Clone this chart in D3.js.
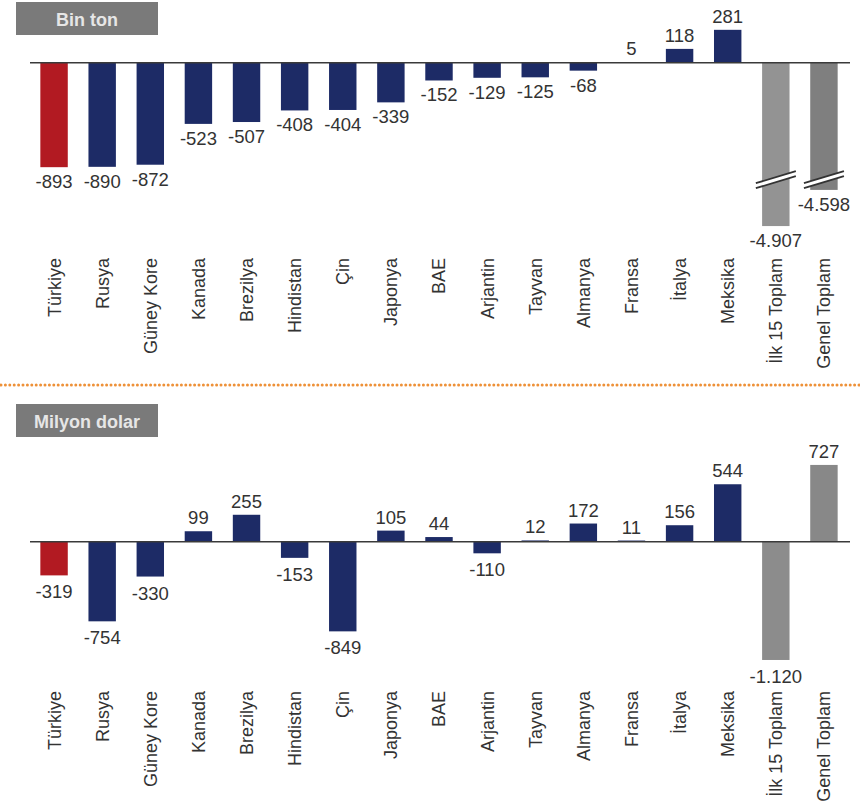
<!DOCTYPE html>
<html>
<head>
<meta charset="utf-8">
<script src="https://cdn.jsdelivr.net/npm/d3@7"></script>
<style>
  html, body { margin: 0; padding: 0; background: #ffffff; }
  svg { display: block; font-family: "Liberation Sans", Arial, Helvetica, sans-serif; }
</style>
</head>
<body>
<svg id="chart" width="860" height="807"></svg>
<script>
// ---------- DATA ----------
const categories = ["Türkiye", "Rusya", "Güney Kore", "Kanada", "Brezilya", "Hindistan", "Çin",
  "Japonya", "BAE", "Arjantin", "Tayvan", "Almanya", "Fransa", "İtalya", "Meksika",
  "İlk 15 Toplam", "Genel Toplam"];
const categoryType = ["turkey", "country", "country", "country", "country", "country", "country",
  "country", "country", "country", "country", "country", "country", "country", "country",
  "top15", "total"];
const binTon = [-893, -890, -872, -523, -507, -408, -404, -339, -152, -129, -125, -68, 5, 118, 281, -4907, -4598];
const milyonDolar = [-319, -754, -330, 99, 255, -153, -849, 105, 44, -110, 12, 172, 11, 156, 544, -1120, 727];
const panelTitles = ["Bin ton", "Milyon dolar"];
// axis break for the tonnage panel (values between these are skipped)
const breakLow = -4515, breakHigh = -1000;

// ---------- STYLE ----------
const colorsTop = { turkey: "#b21a22", country: "#1d2b66", top15: "#939393", total: "#7f7f7f" };
const colorsBottom = { turkey: "#b21a22", country: "#1d2b66", top15: "#8c8c8c", total: "#888888" };

const fmt = d3.formatLocale({ decimal: ",", thousands: ".", grouping: [3], currency: ["", ""], minus: "-" }).format(",d");

const svg = d3.select("#chart");

const x = d3.scaleBand().domain(categories).range([30, 848]).paddingInner(0.43).paddingOuter(0.215);

// top scale (px per unit)
const k1 = 0.117, zero1 = 62.7;
const yTop = d3.scaleLinear()
  .domain([-5000, breakLow, breakHigh, 0, 300])
  .range([zero1 - k1 * breakHigh + 0.5 + k1 * (breakLow + 5000),
          zero1 - k1 * breakHigh + 0.5,
          zero1 - k1 * breakHigh,
          zero1,
          zero1 - k1 * 300]);

const k2 = 0.1056, zero2 = 541.7;
const yBot = d3.scaleLinear().domain([-1200, 800]).range([zero2 + k2 * 1200, zero2 - k2 * 800]);

function drawPanel(g, values, y, colors, opts) {
  const data = categories.map((c, i) => ({ c, v: values[i], t: categoryType[i] }));
  const y0 = y(0);

  // title box
  g.append("rect").attr("x", 16).attr("y", opts.boxY).attr("width", 142).attr("height", 33)
    .attr("fill", "#7a7a7a");
  g.append("text").attr("x", 87).attr("y", opts.boxY + 24).attr("text-anchor", "middle")
    .attr("fill", "#e6e6e6").attr("font-weight", "bold").attr("font-size", 18)
    .text(opts.title);

  // bars
  g.selectAll("rect.bar").data(data).join("rect").attr("class", "bar")
    .attr("x", d => x(d.c)).attr("width", x.bandwidth())
    .attr("y", d => Math.min(y0, y(d.v)))
    .attr("height", d => Math.abs(y(d.v) - y0))
    .attr("fill", d => colors[d.t]);

  // break marks
  if (opts.breakMarks) {
    const yb = y(breakHigh);
    data.filter(d => d.v < breakHigh).forEach(d => {
      const cx = x(d.c) + x.bandwidth() / 2;
      const half = 20, slope = 0.3, gap = 2.5;
      const gb = g.append("g");
      gb.append("path")
        .attr("d", `M${cx - half},${yb + half * slope - gap} L${cx + half},${yb - half * slope - gap} L${cx + half},${yb - half * slope + gap} L${cx - half},${yb + half * slope + gap} Z`)
        .attr("fill", "#ffffff");
      [-gap, gap].forEach(off => {
        gb.append("line")
          .attr("x1", cx - half).attr("y1", yb + half * slope + off)
          .attr("x2", cx + half).attr("y2", yb - half * slope + off)
          .attr("stroke", "#333").attr("stroke-width", 1.8);
      });
    });
  }

  // zero line
  g.append("line").attr("x1", 30).attr("x2", 850).attr("y1", y0).attr("y2", y0)
    .attr("stroke", "#3a3a3a").attr("stroke-width", 1.5);

  // value labels
  g.selectAll("text.val").data(data).join("text").attr("class", "val")
    .attr("x", d => x(d.c) + x.bandwidth() / 2)
    .attr("y", d => d.v >= 0 ? y(d.v) - 7 : y(d.v) + opts.negOffset)
    .attr("text-anchor", "middle").attr("font-size", 18.5).attr("fill", "#333")
    .text(d => fmt(d.v));

  // category labels (rotated)
  g.selectAll("text.cat").data(data).join("text").attr("class", "cat")
    .attr("transform", d => `translate(${x(d.c) + x.bandwidth() / 2},${opts.labelTop}) rotate(-90)`)
    .attr("text-anchor", "end").attr("dy", "0.36em")
    .attr("font-size", 18).attr("fill", "#333")
    .text(d => d.c);
}

drawPanel(svg.append("g"), binTon, yTop, colorsTop,
  { title: panelTitles[0], boxY: 2, labelTop: 258, negOffset: 21, breakMarks: true });

// separator
svg.append("line").attr("x1", 1).attr("x2", 860).attr("y1", 385).attr("y2", 385)
  .attr("stroke", "#ee9138").attr("stroke-width", 3).attr("stroke-linecap", "round")
  .attr("stroke-dasharray", "0 4.4");

drawPanel(svg.append("g"), milyonDolar, yBot, colorsBottom,
  { title: panelTitles[1], boxY: 404, labelTop: 691, negOffset: 23, breakMarks: false });
</script>
</body>
</html>
